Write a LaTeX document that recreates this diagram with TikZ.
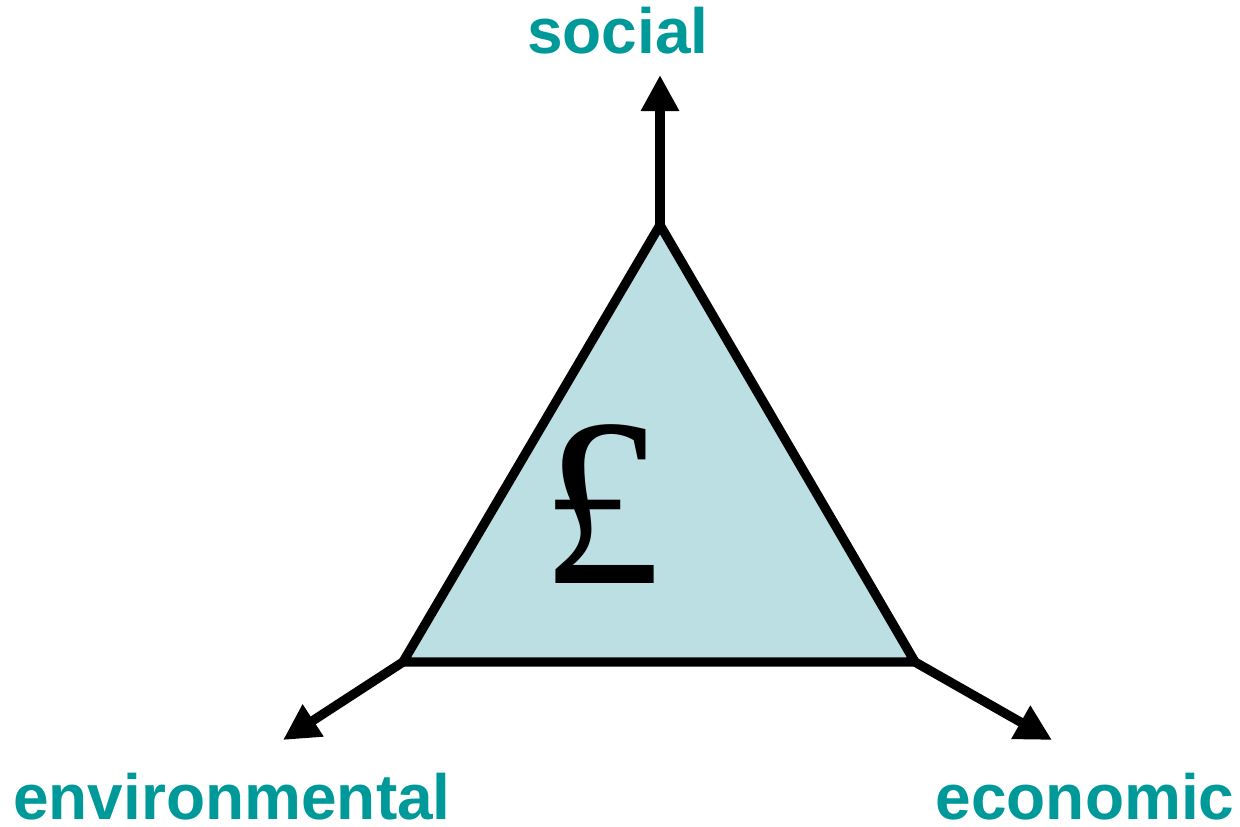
\documentclass[tikz,border=0pt]{standalone}
\usepackage{fontspec}
\setmainfont{Liberation Sans}
\newfontfamily\poundfont{Liberation Serif}
\usetikzlibrary{arrows.meta}
\definecolor{teallabel}{HTML}{009999}
\definecolor{trifill}{HTML}{BBDFE2}
\begin{document}
\begin{tikzpicture}[x=0.75pt,y=-0.75pt,
  edge/.style={line width=7pt,line join=miter},
  axis/.style={line width=7pt,-{Triangle[length=27pt,width=27pt]}},
  lbl/.style={text=teallabel,font=\fontsize{48}{52}\selectfont\bfseries,inner sep=0pt,anchor=base}]
\useasboundingbox (0,0) rectangle (1240,826);
\coordinate (T) at (660,225);
\coordinate (L) at (403,662);
\coordinate (R) at (915,662);
\coordinate (TS) at (660,75);
\coordinate (LS) at (283,740);
\coordinate (RS) at (1052,740);
\filldraw[edge,fill=trifill] (T) -- (L) -- (R) -- cycle;
\draw[axis] (T) -- (TS);
\draw[axis] (L) -- (LS);
\draw[axis] (R) -- (RS);
\node[lbl] (social) at (618,53) {social};
\node[lbl] (env) at (232,819) {environmental};
\node[lbl] (eco) at (1085,819) {economic};
\node[font=\poundfont\fontsize{180}{190}\selectfont,inner sep=0pt] (pound) at (601,504) {£};
\end{tikzpicture}
\end{document}
